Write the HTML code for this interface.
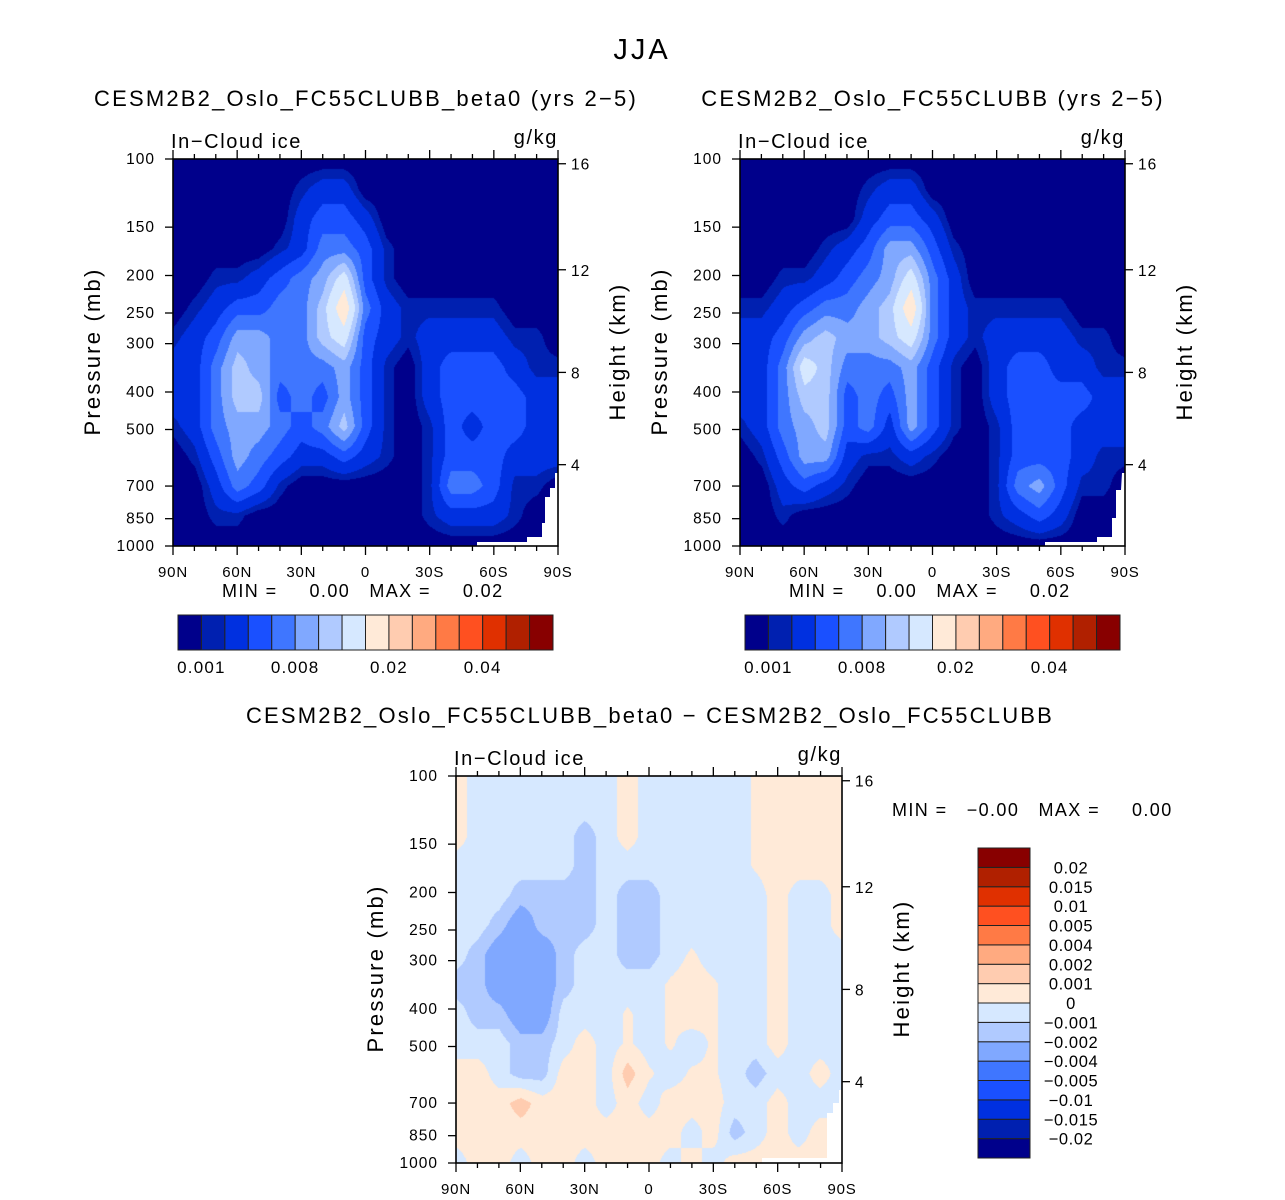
<!DOCTYPE html>
<html><head><meta charset="utf-8">
<style>
html,body{margin:0;padding:0;background:#fff;}
#root{position:relative;width:1285px;height:1200px;overflow:hidden;font-family:"Liberation Sans","DejaVu Sans",sans-serif;}
canvas{position:absolute;}
svg{position:absolute;left:0;top:0;}
text{white-space:pre;}
</style></head>
<body>
<div id="root">
<canvas id="c1" width="385" height="387" style="left:173px;top:159px"></canvas>
<canvas id="c2" width="385" height="387" style="left:740px;top:159px"></canvas>
<canvas id="c3" width="386" height="387" style="left:456px;top:776px"></canvas>
<svg id="ov" width="1285" height="1200"></svg>
</div>
<script>
// ---- data ----
const latLabels = ["90N","60N","30N","0","30S","60S","90S"];
const pressureTicks = [100,150,200,250,300,400,500,700,850,1000];
const heightTicks = [4,8,12,16];
const colors = ["#00008b","#0020b0","#0030e0","#1a50ff","#3f76ff","#80a8ff","#b0caff","#d6e8ff","#ffead8","#ffccb0","#ffaa80","#ff7a45","#ff5020","#e03000","#b02000","#880000"];
const levelsMain = [1,2,4,6,8,10,12,15,20,25,30,35,40,45,50]; // x1e-3 g/kg
const labelsMain = ["0.001","0.008","0.02","0.04"];
const labelIdxMain = [0,4,8,12];
const levelsDiff = [-20,-15,-10,-5,-4,-2,-1,0,1,2,4,5,10,15,20]; // x1e-3 g/kg
const labelsDiff = ["-0.02","-0.015","-0.01","-0.005","-0.004","-0.002","-0.001","0","0.001","0.002","0.004","0.005","0.01","0.015","0.02"];
// field values x1e-3 g/kg, rows 100mb->1000mb, cols 90N->90S (10 deg)
const fieldA = [
[0,0,0,0,0,0,0,0,0,0,0,0,0,0,0,0,0,0,0],
[0,0,0,0,0,0,1.5,3,3,0,0,0,0,0,0,0,0,0,0],
[0,0,0,0,0,0,3,5,5,3,0,0,0,0,0,0,0,0,0],
[0,0,0,0,0,1.5,3,7,7,5,1.5,0,0,0,0,0,0,0,0],
[0,0,1.5,1.5,3,5,7,9,13.5,5,1.5,0,0,0,0,0,0,0,0],
[0,1.5,3,5,5,7,7,11,17.5,7,3,1.5,1.5,1.5,1.5,1.5,0,0,0],
[1.5,3,5,9,9,7,7,11,13.5,5,3,1.5,3,3,3,3,1.5,1.5,0],
[3,3,7,11,9,7,7,7,9,5,1.5,0,3,5,5,5,3,1.5,1.5],
[3,3,7,11,11,5,7,5,9,5,1.5,0,3,5,5,5,5,3,3],
[1.5,3,7,9,9,7,5,7,11,5,1.5,0,1.5,5,3,5,5,3,3],
[0,1.5,5,9,7,5,3,3,5,3,1.5,0,1.5,5,5,5,3,3,3],
[0,0,3,7,5,1.5,0,0,0,0,0,0,1.5,7,7,5,1.5,1.5,0],
[0,0,1.5,1.5,0,0,0,0,0,0,0,0,1.5,3,3,3,1.5,0,0],
[0,0,0,0,0,0,0,0,0,0,0,0,0,0,0,0,0,0,0]];
const fieldB = [
[0,0,0,0,0,0,0,0,0,0,0,0,0,0,0,0,0,0,0],
[0,0,0,0,0,0,1.5,3,3,0,0,0,0,0,0,0,0,0,0],
[0,0,0,0,0,0,3,5,5,3,0,0,0,0,0,0,0,0,0],
[0,0,0,0,1.5,3,5,9,9,5,1.5,0,0,0,0,0,0,0,0],
[0,0,1.5,1.5,3,5,7,9,13.5,7,3,0,0,0,0,0,0,0,0],
[1.5,1.5,3,5,7,7,9,11,17.5,7,3,1.5,1.5,1.5,1.5,1.5,0,0,0],
[3,3,5,9,11,9,9,11,13.5,7,3,1.5,3,3,3,3,1.5,1.5,0],
[3,3,7,13.5,11,7,7,7,9,5,1.5,0,3,5,5,3,3,1.5,1.5],
[3,3,7,11,11,5,7,5,9,5,1.5,0,3,5,5,5,5,3,3],
[1.5,3,7,9,11,5,7,3,9,5,1.5,0,1.5,5,5,5,3,3,3],
[0,1.5,5,9,9,3,1.5,1.5,3,1.5,0,0,1.5,5,5,5,3,1.5,1.5],
[0,0,3,5,3,1.5,0,0,0,0,0,0,1.5,7,9,5,1.5,1.5,0],
[0,0,1.5,0,0,0,0,0,0,0,0,0,1.5,3,5,3,0,0,0],
[0,0,0,0,0,0,0,0,0,0,0,0,0,0,0,0,0,0,0]];
const P=0.5, B=-0.5, M=-1.5, D=-3, O=1.5, p=0.15;
const fieldDiff = [
[P,B,B,B,B,B,B,B,P,B,B,B,B,B,p,P,P,P,P],
[P,B,B,B,B,B,B,B,P,B,B,B,B,B,p,P,P,P,P],
[P,B,B,B,B,B,M,B,P,B,B,B,B,B,p,P,P,P,P],
[B,B,B,B,B,B,M,B,B,B,B,B,B,B,p,P,P,P,P],
[B,B,B,M,M,M,M,B,M,M,B,B,B,B,B,P,B,B,P],
[B,B,M,D,M,M,M,B,M,M,B,B,B,B,B,P,B,B,P],
[B,M,D,D,D,M,B,B,M,M,B,p,B,B,B,P,B,B,B],
[M,M,D,D,D,M,B,B,B,B,p,P,p,B,B,P,B,B,B],
[B,M,M,D,D,B,B,B,p,B,p,P,p,B,B,P,B,B,B],
[B,B,B,M,M,B,P,B,p,B,p,B,p,B,B,P,B,B,B],
[P,P,B,M,M,P,P,B,O,p,B,p,p,B,M,B,B,P,B],
[P,P,P,O,P,P,P,B,P,B,P,P,P,B,B,P,B,B,B],
[P,P,P,P,P,P,P,P,P,P,P,B,P,M,B,P,B,P,P],
[B,P,P,B,P,P,B,P,P,P,B,P,B,P,P,P,P,P,P]];

// ---- rendering ----
function bandOf(v, levels){let k=0;while(k<levels.length&&v>=levels[k])k++;return k;}
function hex(c){return [parseInt(c.substr(1,2),16),parseInt(c.substr(3,2),16),parseInt(c.substr(5,2),16)];}
const rgb = colors.map(hex);
function drawField(id, field, levels){
  const cv=document.getElementById(id), ctx=cv.getContext('2d');
  const W=cv.width,H=cv.height, img=ctx.createImageData(W,H);
  const nr=field.length, nc=field[0].length;
  for(let py=0;py<H;py++){
    const gy=py/(H-1)*(nr-1), j=Math.min(Math.floor(gy),nr-2), fy=gy-j;
    for(let px=0;px<W;px++){
      const gx=px/(W-1)*(nc-1), i=Math.min(Math.floor(gx),nc-2), fx=gx-i;
      const v=field[j][i]*(1-fx)*(1-fy)+field[j][i+1]*fx*(1-fy)+field[j+1][i]*(1-fx)*fy+field[j+1][i+1]*fx*fy;
      const c=rgb[bandOf(v,levels)], o=(py*W+px)*4;
      img.data[o]=c[0];img.data[o+1]=c[1];img.data[o+2]=c[2];img.data[o+3]=255;
    }
  }
  ctx.putImageData(img,0,0);
}
drawField('c1',fieldA,levelsMain);
drawField('c2',fieldB,levelsMain);
drawField('c3',fieldDiff,levelsDiff);

const NS="http://www.w3.org/2000/svg", ov=document.getElementById('ov');
function el(tag,attrs,parent){const e=document.createElementNS(NS,tag);for(const k in attrs)e.setAttribute(k,attrs[k]);(parent||ov).appendChild(e);return e;}
function txt(s,x,y,size,anchor,parent,ls){const t=el('text',{x:x,y:y,'font-size':size,'text-anchor':anchor||'start',fill:'#000','letter-spacing':ls||0},parent);t.textContent=s;return t;}
function pY(p,y0,h){return y0+(Math.log10(p)-2)*h;}
function zToP(z){return z<=11?1013.25*Math.pow(1-2.2558e-5*z*1000,5.2559):226.3*Math.exp(-(z-11)/6.3416);}

function panel(x0,y0,w,h,title,titleX,mask){
  const g=el('g',{});
  
  
  if(mask){const m=el('polygon',{points:mask,fill:'#fff'},g);
    
    }
  const fr=el('rect',{x:x0,y:y0,width:w,height:h,fill:'none',stroke:'#000','stroke-width':1.6},g);
  
  
  for(let k=0;k<=18;k++){
    const x=x0+k*w/18, L=(k%3===0)?9:5;
    el('line',{x1:x,y1:y0,x2:x,y2:y0-L,stroke:'#000','stroke-width':1.3},g);
    el('line',{x1:x,y1:y0+h,x2:x,y2:y0+h+L,stroke:'#000','stroke-width':1.3},g);
  }
  latLabels.forEach((s,k)=>{const t=txt(s,x0+k*w/6,y0+h+31,15,'middle',g,0.8);
    
    });
  pressureTicks.forEach(p=>{const y=pY(p,y0,h);
    el('line',{x1:x0,y1:y,x2:x0-8,y2:y,stroke:'#000','stroke-width':1.3},g);
    const t=txt(String(p),x0-18,y+5,15.5,'end',g,1);
    
    });
  heightTicks.forEach(z=>{const y=pY(zToP(z),y0,h);
    el('line',{x1:x0+w,y1:y,x2:x0+w+8,y2:y,stroke:'#000','stroke-width':1.3},g);
    const t=txt(String(z),x0+w+13,y+6,15.5,'start',g,1);
    
    });
  const yl=txt('Pressure (mb)',0,0,22,'middle',g,2.2);
  yl.setAttribute('transform',`translate(${x0-73},${y0+h/2-1}) rotate(-90)`);
  
  
  const hl=txt('Height (km)',0,0,22,'middle',g,2.2);
  hl.setAttribute('transform',`translate(${x0+w+67},${y0+h/2-1}) rotate(-90)`);
  
  
  const v=txt('In\u2212Cloud ice',x0-2,y0-11,20,'start',g,1.6);
  
  
  const u=txt('g/kg',x0+w,y0-15,20,'end',g,1.6);
  
  
  const tt=txt(title,titleX,y0-53,22,'middle',g,2.2);
  
  
  return g;
}
function hbar(x0,y0,w,h){
  const n=colors.length,bw=w/n;
  colors.forEach((c,k)=>{const r=el('rect',{x:x0+k*bw,y:y0,width:bw,height:h,fill:c,stroke:'#222','stroke-width':1});
    
    });
  labelsMain.forEach((s,k)=>{const t=txt(s,x0+(labelIdxMain[k]+1)*bw,y0+h+23,17,'middle',null,1.2);
    
    });
}
function vbar(x0,y0,w,h){
  const n=colors.length,bh=h/n;
  colors.forEach((c,k)=>{const r=el('rect',{x:x0,y:y0+(n-1-k)*bh,width:w,height:bh,fill:c,stroke:'#222','stroke-width':1});
    
    });
  labelsDiff.forEach((s,k)=>{const t=txt(s.replace('-','\u2212'),x0+w+41,y0+(n-1-k)*bh+6,16.5,'middle',null,0.6);
    
    });
}

const main=txt('JJA',642,59,29,'middle',null,3);



panel(173,159,385,387,'CESM2B2_Oslo_FC55CLUBB_beta0 (yrs 2\u22125)',366,
 '555,473 558,473 558,546 477,546 477,542 527,542 527,537 542,537 542,523 545,523 545,497 550,497 550,488 555,488');
panel(740,159,385,387,'CESM2B2_Oslo_FC55CLUBB (yrs 2\u22125)',933,
 '1122,473 1125,473 1125,546 1045,546 1045,542 1097,542 1097,537 1112,537 1112,518 1116,518 1116,490 1121,490');
panel(456,776,386,387,'CESM2B2_Oslo_FC55CLUBB_beta0 \u2212 CESM2B2_Oslo_FC55CLUBB',650,
 '839,1090 842,1090 842,1163 762,1163 762,1158 827,1158 827,1113 833,1113 833,1103 839,1103');

let m1=txt('MIN =     0.00   MAX =     0.02',222,597,18,'start',null,1.4);


let m2=txt('MIN =     0.00   MAX =     0.02',789,597,18,'start',null,1.4);


let m3=txt('MIN =   \u22120.00   MAX =     0.00',892,816,18,'start',null,1.4);



hbar(178,615,375,35);
hbar(745,615,375,35);
vbar(978,848,52,310);
</script>
</body></html>
